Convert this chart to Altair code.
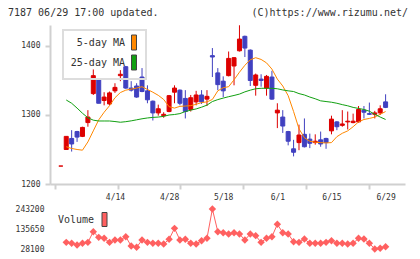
import altair as alt
import pandas as pd

# ---------------- data ----------------
header_left = "7187 06/29 17:00 updated."
header_right = "(C)https://www.rizumu.net/"

# x position = trading-day index (0 = previous close marker, 1..60 = 4/1 .. 6/29)
date_labels = ["4/14", "4/28", "5/18", "6/1", "6/15", "6/29"]
date_label_idx = [10, 20, 30, 40, 50, 60]

opens = [1226, 1250, 1266, 1276, 1269, 1289, 1331, 1351, 1321, 1316, 1335,
         1357, 1370, 1339, 1342, 1355, 1335, 1320, 1303, 1299, 1305,
         1333, 1336, 1324, 1308, 1319, 1329, 1323, 1386, 1361, 1349,
         1357, 1371, 1393, 1414, 1394, 1343, 1352, 1339, 1355, 1303,
         1297, 1276, 1251, 1260, 1272, 1265, 1260, 1264, 1266, 1277,
         1290, 1285, 1290, 1289, 1290, 1307, 1302, 1301, 1303, 1319]
highs = [1226, 1269, 1278, 1277, 1283, 1307, 1366, 1353, 1333, 1334, 1346,
         1365, 1371, 1349, 1346, 1368, 1343, 1321, 1315, 1304, 1329,
         1343, 1337, 1336, 1329, 1335, 1336, 1336, 1397, 1368, 1356,
         1392, 1384, 1430, 1415, 1395, 1360, 1359, 1358, 1364, 1317,
         1307, 1277, 1264, 1286, 1295, 1273, 1272, 1276, 1267, 1299,
         1291, 1307, 1305, 1302, 1313, 1313, 1318, 1306, 1314, 1330]
lows = [1226, 1250, 1247, 1261, 1268, 1283, 1329, 1317, 1314, 1314, 1332,
        1349, 1338, 1334, 1325, 1333, 1317, 1292, 1299, 1296, 1304,
        1317, 1314, 1295, 1305, 1314, 1316, 1313, 1355, 1336, 1326,
        1356, 1343, 1392, 1384, 1342, 1328, 1341, 1328, 1322, 1281,
        1274, 1256, 1240, 1249, 1253, 1252, 1257, 1254, 1251, 1272,
        1278, 1283, 1279, 1288, 1289, 1295, 1300, 1295, 1300, 1310]
closes = [1226, 1269, 1258, 1268, 1282, 1297, 1357, 1317, 1326, 1332, 1340,
          1359, 1339, 1336, 1326, 1334, 1322, 1303, 1309, 1301, 1328,
          1339, 1317, 1305, 1325, 1329, 1319, 1327, 1384, 1344, 1335,
          1382, 1383, 1410, 1397, 1350, 1358, 1350, 1356, 1323, 1307,
          1284, 1262, 1246, 1271, 1254, 1259, 1262, 1258, 1260, 1294,
          1283, 1287, 1291, 1291, 1308, 1304, 1301, 1303, 1309, 1311]

ma5 = [1254, 1251.5, 1250, 1249, 1261, 1277, 1293, 1304, 1313.5, 1325,
       1332.5, 1336, 1337.5, 1339, 1341, 1337, 1333, 1328.5, 1322.5, 1312,
       1310, 1312.5, 1313, 1313.5, 1315.5, 1318, 1319, 1322.5, 1335, 1339.5,
       1341, 1351, 1362, 1372, 1380, 1383, 1380.5, 1375.5, 1366.5, 1352,
       1342, 1328, 1305, 1280, 1267, 1262, 1260.5, 1260, 1259.5, 1260,
       1268.6, 1273.5, 1277, 1283, 1290, 1293.5, 1295, 1297, 1301, 1305]
ma25 = [1321.7, 1317, 1310, 1302.5, 1296, 1292.5, 1291.3, 1291.3, 1291.3, 1290.5,
        1289.5, 1290.3, 1291.5, 1293, 1294.5, 1295.7, 1296.5, 1297, 1298, 1300,
        1300.7, 1302, 1305, 1307, 1308.8, 1311.3, 1314.3, 1319.5, 1322.3, 1324.5,
        1326.5, 1328.3, 1330.3, 1333.5, 1336, 1338, 1338.7, 1338.7, 1338.7, 1338,
        1336.3, 1335, 1334, 1331, 1329, 1326, 1323.5, 1320.5, 1319.5, 1318.5,
        1317, 1315, 1313.3, 1311, 1309.5, 1308, 1305.5, 1301, 1297, 1293.5]

volume = [63900, 58600, 49600, 58600, 63900, 121300, 90800, 85500, 63900, 76500,
          76500, 94400, 44200, 37100, 76500, 63900, 58600, 58600, 55000, 80100,
          139200, 76500, 80100, 58600, 55000, 72900, 85500, 243200, 121300, 115900,
          108800, 115900, 108800, 76500, 108800, 99800, 63900, 85500, 94400, 160800,
          115900, 108800, 67500, 63900, 81900, 58600, 58600, 58600, 63900, 72900,
          58600, 58600, 55000, 58600, 85500, 81900, 58600, 28100, 31700, 40600]

ma_names = ["5-day MA", "25-day MA"]
vol_name = "Volume"

# ---------------- tables ----------------
n = len(opens)
candles = pd.DataFrame({"i": list(range(n)), "o": opens, "h": highs,
                        "l": lows, "c": closes})
days = list(range(1, n))
ma5_df = pd.DataFrame({"i": days, "v": ma5, "s": ma_names[0]})
ma25_df = pd.DataFrame({"i": days, "v": ma25, "s": ma_names[1]})
ma_all = pd.concat([ma5_df, ma25_df], ignore_index=True)
vol = pd.DataFrame({"i": days, "vol": volume, "s": vol_name})

# ---------------- styling ----------------
FONT = "DejaVu Sans Mono"
TXT = "#333333"
GRAY = "#d0d0d0"
RED = "#dd0000"
BLUE = "#4040c0"
ORANGE = "#ff8800"
GREEN = "#11a011"
PINK = "#ff6060"

X0, X1 = -1.077, 62.66
x_ticks = [X0 + k * (X1 - X0) / 11 for k in range(12)]
xscale = alt.Scale(domain=[X0, X1], nice=False, zero=False)
pscale = alt.Scale(domain=[1200, 1430.4], range=[159, 0], nice=False, zero=False)
vmin, vmax = min(volume), max(volume)
vscale = alt.Scale(domain=[vmin, vmax], range=[224, 184], nice=False, zero=False)

label_expr = " : ".join(f"datum.value == {i} ? '{d}'"
                        for i, d in zip(date_label_idx, date_labels)) + " : ''"

# axis line with the evenly spaced tick marks (no labels)
x_tick_axis = alt.Axis(values=x_ticks, orient="bottom", labels=False, title=None,
                       grid=False, domainColor=GRAY, domainWidth=2, tickColor=GRAY,
                       tickWidth=2, tickSize=5, offset=-65)
# date labels every 10 trading days (no ticks, no line)
x_date_axis = alt.Axis(values=date_label_idx, orient="bottom", labelExpr=label_expr,
                       title=None, grid=False, domain=False, ticks=False,
                       labelFont=FONT, labelFontSize=8, labelColor=TXT,
                       labelPadding=9, labelOverlap=False, labelFlush=False,
                       offset=-65)
p_axis = alt.Axis(values=[1200, 1300, 1400], orient="left", title=None, grid=False,
                  domainColor=GRAY, domainWidth=2, tickColor=GRAY, tickWidth=2,
                  tickSize=5, labelFont=FONT, labelFontSize=8, labelColor=TXT,
                  labelPadding=5, format="d")
v_axis = alt.Axis(values=[vmin, (vmin + vmax) / 2, vmax], orient="left", title=None,
                  grid=False, domain=False, ticks=False, labelFont=FONT,
                  labelFontSize=8, labelColor=TXT, labelPadding=6, format="d")

ma_legend = alt.Legend(title=None, orient="none", legendX=13, legendY=5,
                       direction="vertical", padding=7, rowPadding=1,
                       strokeColor="#dddddd",
                       symbolType="M11.2,-1.5H12.2V1.5H11.2Z", symbolSize=100,
                       symbolStrokeColor="#444444", symbolStrokeWidth=1,
                       symbolOpacity=1, labelAlign="right", labelOffset=44,
                       labelFont=FONT, labelFontSize=10, labelColor=TXT)
vol_legend = alt.Legend(title=None, orient="none", legendX=5, legendY=187,
                        padding=2, symbolType="M7.9,-1.4H8.9V1.4H7.9Z",
                        symbolSize=100, symbolStrokeColor="#444444",
                        symbolStrokeWidth=1, symbolOpacity=1, labelAlign="right",
                        labelOffset=26, labelFont=FONT, labelFontSize=10,
                        labelColor=TXT)

updown = alt.condition("datum.c >= datum.o", alt.value(RED), alt.value(BLUE))
X = alt.X("i:Q", scale=xscale)

# ---------------- price panel ----------------
wick = alt.Chart(candles).mark_rule(strokeWidth=1).encode(
    x=alt.X("i:Q", scale=xscale, axis=x_tick_axis),
    y=alt.Y("l:Q", scale=pscale, axis=p_axis),
    y2="h:Q",
    color=updown,
)
body = alt.Chart(candles).mark_bar(size=4, strokeWidth=1, orient="vertical").encode(
    x=X,
    y=alt.Y("o:Q", scale=pscale),
    y2="c:Q",
    color=updown,
    stroke=updown,
)
ma5_line = alt.Chart(ma5_df).mark_line(strokeWidth=1, color=ORANGE).encode(
    x=X, y=alt.Y("v:Q", scale=pscale))
ma25_line = alt.Chart(ma25_df).mark_line(strokeWidth=1, color=GREEN).encode(
    x=X, y=alt.Y("v:Q", scale=pscale))
ma_key = alt.Chart(ma_all).mark_point(filled=True, opacity=0, size=1).encode(
    x=X,
    y=alt.Y("v:Q", scale=pscale),
    fill=alt.Fill("s:N", scale=alt.Scale(domain=ma_names, range=[ORANGE, GREEN]),
                  legend=ma_legend),
)
price = alt.layer(wick, body, ma5_line, ma25_line, ma_key)

# ---------------- volume panel ----------------
vol_line = alt.Chart(vol).mark_line(color=PINK, strokeWidth=1).encode(
    x=alt.X("i:Q", scale=xscale, axis=x_date_axis),
    y=alt.Y("vol:Q", scale=vscale, axis=v_axis),
)
vol_pts = alt.Chart(vol).mark_point(filled=True, shape="diamond", size=55, opacity=1).encode(
    x=X,
    y=alt.Y("vol:Q", scale=vscale),
    color=alt.Color("s:N", scale=alt.Scale(domain=[vol_name], range=[PINK]),
                    legend=vol_legend),
)
volume_panel = alt.layer(vol_line, vol_pts)

# ---------------- header texts ----------------
hdr_l = alt.Chart(pd.DataFrame({"t": [header_left]})).mark_text(
    align="left", baseline="middle", font=FONT, fontSize=10, color=TXT
).encode(text="t:N", x=alt.value(-42), y=alt.value(-12.5))
hdr_r = alt.Chart(pd.DataFrame({"t": [header_right]})).mark_text(
    align="right", baseline="middle", font=FONT, fontSize=10, color=TXT
).encode(text="t:N", x=alt.value(358), y=alt.value(-12.5))

chart = alt.layer(price, volume_panel, hdr_l, hdr_r).resolve_scale(
    y="independent"
).resolve_axis(x="independent", y="independent").properties(
    width=355, height=224,
    autosize=alt.AutoSizeParams(type="none"),
    padding={"left": 50, "top": 25, "right": 15, "bottom": 10},
    background="white",
).configure_view(stroke=None).configure_legend(strokeWidth=2)

chart.save("out.html", embed_options={"renderer": "svg", "actions": False})
